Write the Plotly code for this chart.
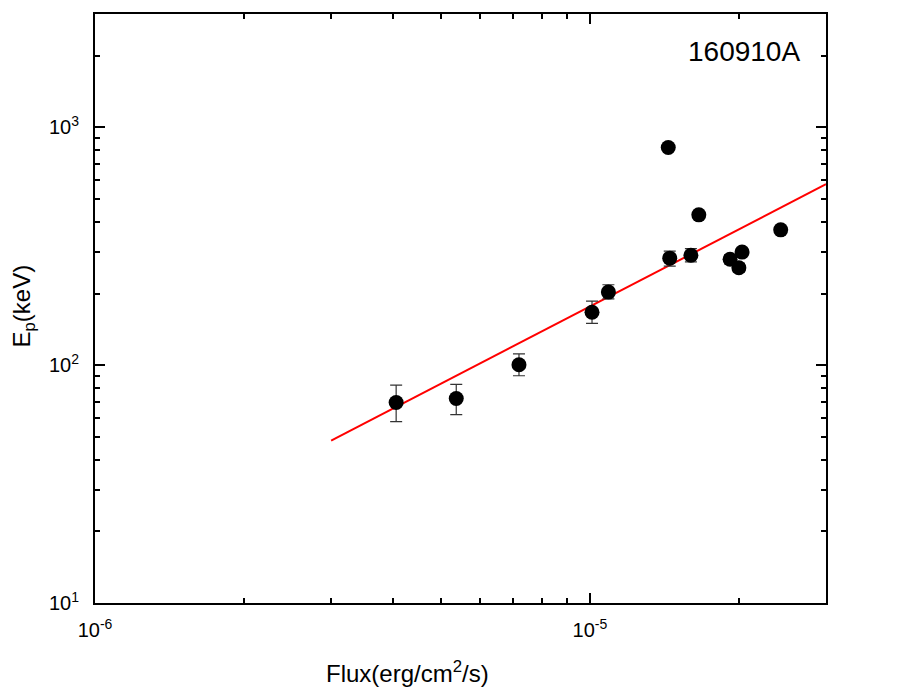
import numpy as np
import plotly.graph_objects as go

# datos (160910A)
flux = [4.06e-6, 5.37e-6, 7.19e-6, 1.01e-5, 1.09e-5, 1.44e-5, 1.45e-5,
        1.60e-5, 1.66e-5, 1.92e-5, 2.00e-5, 2.03e-5, 2.43e-5]
ep = [69.7, 72.4, 100.5, 167, 203, 824, 282, 290, 429, 279, 257, 299, 371]
ep_err_up = [12.7, 10.6, 11.2, 19, 15, 0, 20, 19, 0, 12, 11, 10, 0]
ep_err_dn = [11.8, 10.4, 10.2, 17, 13, 0, 21, 18, 0, 12, 11, 10, 0]

# ajuste (linea roja)
fit_x = [3.0e-6, 3.0e-5]
fit_y = [48.2, 577]

fuente = "Liberation Sans, Arial, sans-serif"

fig = go.Figure()

fig.add_trace(go.Scatter(
    x=fit_x, y=fit_y, mode="lines",
    line=dict(color="#ff0000", width=2),
    showlegend=False,
))

fig.add_trace(go.Scatter(
    x=flux, y=ep, mode="markers",
    marker=dict(color="black", size=15),
    error_y=dict(type="data", symmetric=False, array=ep_err_up, arrayminus=ep_err_dn,
                 color="#333333", thickness=1.2, width=6),
    showlegend=False,
))

fig.add_annotation(
    x=0.888, y=0.936, xref="paper", yref="paper", text="160910A",
    xanchor="center", yanchor="middle",
    showarrow=False, font=dict(family=fuente, size=28, color="black"),
)

# titulos de ejes como anotaciones (el del eje x no esta centrado)
fig.add_annotation(
    x=0.428, y=-0.117, xref="paper", yref="paper", text="Flux(erg/cm<sup>2</sup>/s)",
    xanchor="center", yanchor="middle",
    showarrow=False, font=dict(family=fuente, size=24, color="black"),
)
fig.add_annotation(
    x=-0.098, y=0.504, xref="paper", yref="paper", text="E<sub>p</sub>(keV)",
    xanchor="center", yanchor="middle", textangle=-90,
    showarrow=False, font=dict(family=fuente, size=24, color="black"),
)

minor_x = [m * 10.0 ** d for d in (-6, -5) for m in range(2, 10) if m * 10.0 ** d <= 3e-5]
minor_y = [m * 10.0 ** d for d in (1, 2, 3) for m in range(2, 10) if m * 10.0 ** d <= 3000]

fig.update_xaxes(
    type="log", range=[-6, np.log10(3e-5)],
    tickvals=[1e-6, 1e-5], ticktext=["10<sup>-6</sup>", "10<sup>-5</sup>"],
    ticks="inside", ticklen=10, tickwidth=2, tickcolor="black",
    minor=dict(tickvals=minor_x, ticks="inside", ticklen=5, tickwidth=1.5, tickcolor="black", showgrid=False),
    showline=True, linewidth=2, linecolor="black", mirror="allticks",
    showgrid=False, zeroline=False,
    tickfont=dict(family=fuente, size=20, color="black"),
    ticklabelstandoff=8,
)

fig.update_yaxes(
    type="log", range=[1, np.log10(3000)],
    tickvals=[10, 100, 1000], ticktext=["10<sup>1</sup>", "10<sup>2</sup>", "10<sup>3</sup>"],
    ticks="inside", ticklen=10, tickwidth=2, tickcolor="black",
    minor=dict(tickvals=minor_y, ticks="inside", ticklen=5, tickwidth=1.5, tickcolor="black", showgrid=False),
    showline=True, linewidth=2, linecolor="black", mirror="allticks",
    showgrid=False, zeroline=False,
    tickfont=dict(family=fuente, size=20, color="black"),
    ticklabelstandoff=10,
)

# el body de la pagina añade 8px, se compensa en los margenes
fig.update_layout(
    width=917, height=695,
    margin=dict(l=87, r=99, t=4, b=100),
    plot_bgcolor="white", paper_bgcolor="white",
    font=dict(family=fuente),
)

fig.write_html("out.html")
